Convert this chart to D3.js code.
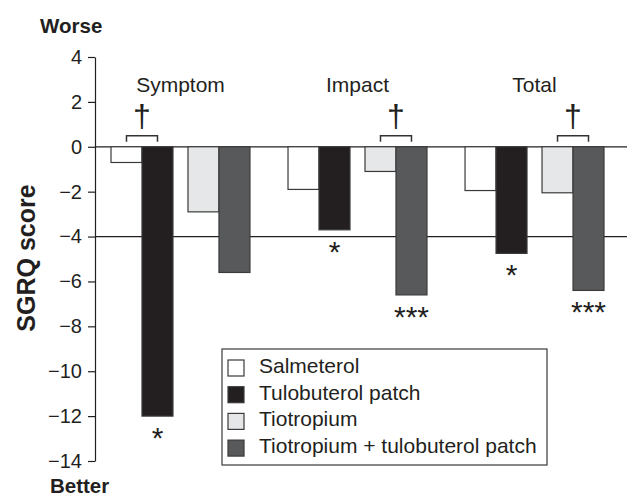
<!DOCTYPE html>
<html>
<head>
<meta charset="utf-8">
<script src="https://cdn.jsdelivr.net/npm/d3@7"></script>
<style>
  body { margin: 0; background: #fff; }
  svg text { font-family: "Liberation Sans", Arial, sans-serif; fill: #231f20; }
</style>
</head>
<body>
<div id="chart"></div>
<script>
var categories = ["Symptom", "Impact", "Total"];
var seriesNames = ["Salmeterol", "Tulobuterol patch", "Tiotropium", "Tiotropium + tulobuterol patch"];
var salmeterol = [-0.7, -1.9, -1.95];
var tulobuterol = [-12.0, -3.7, -4.75];
var tiotropium = [-2.9, -1.1, -2.05];
var combination = [-5.6, -6.6, -6.4];
var stars = [["", "*", "", ""], ["", "*", "", "***"], ["", "*", "", "***"]];
var daggerPairs = [[0, 1], [2, 3], [2, 3]];
var yTicks = [4, 2, 0, -2, -4, -6, -8, -10, -12, -14];
var refLines = [0, -4];
var colors = ["#ffffff", "#231f20", "#e6e7e8", "#58595b"];

window.addEventListener('load', function() {
    var width = 631, height = 497,
        series = [salmeterol, tulobuterol, tiotropium, combination],
        svg = d3.select('#chart').append('svg')
            .attr('width', width).attr('height', height);

    var y = d3.scaleLinear().domain([-14, 4]).range([461, 57]),
        x = d3.scaleBand().domain(categories).range([111, 604]).paddingInner(0.215).paddingOuter(0),
        pair = d3.scaleBand().domain([0, 1]).range([0, x.bandwidth()]).paddingInner(0.195),
        sub = d3.scaleBand().domain([0, 1]).range([0, pair.bandwidth()]);

    var barX = function(ci, si) {
        return x(categories[ci]) + pair(Math.floor(si / 2)) + sub(si % 2);
    };

    // reference lines
    svg.selectAll('.ref').data(refLines).enter().append('line')
        .attr('x1', 95).attr('x2', 627)
        .attr('y1', function(d) { return y(d); })
        .attr('y2', function(d) { return y(d); })
        .attr('stroke', '#231f20').attr('stroke-width', 1.2);

    // axis
    var axis = svg.append('g').attr('transform', 'translate(95,0)')
        .call(d3.axisLeft(y).tickValues(yTicks).tickSize(7).tickSizeOuter(0).tickPadding(6));
    axis.select('.domain').attr('stroke', '#231f20').attr('stroke-width', 1.2);
    axis.selectAll('.tick line').attr('stroke', '#231f20').attr('stroke-width', 1.2);
    axis.selectAll('.tick text').attr('font-size', 20).style('font-family', '"Liberation Sans", Arial, sans-serif');

    // bars
    var rows = [];
    categories.forEach(function(c, ci) {
        series.forEach(function(s, si) { rows.push({ci: ci, si: si, v: s[ci]}); });
    });
    svg.selectAll('.bar').data(rows).enter().append('rect')
        .attr('x', function(d) { return barX(d.ci, d.si); })
        .attr('y', y(0))
        .attr('width', sub.bandwidth())
        .attr('height', function(d) { return y(d.v) - y(0); })
        .attr('fill', function(d) { return colors[d.si]; })
        .attr('stroke', '#3a3a3a').attr('stroke-width', 1.2);

    // significance stars
    svg.selectAll('.star').data(rows.filter(function(d) { return stars[d.ci][d.si]; }))
        .enter().append('text')
        .attr('x', function(d) { return barX(d.ci, d.si) + sub.bandwidth() / 2; })
        .attr('y', function(d) { return y(d.v) + 32; })
        .attr('text-anchor', 'middle').attr('font-size', 30)
        .text(function(d) { return stars[d.ci][d.si]; });

    // category labels
    svg.selectAll('.cat').data(categories).enter().append('text')
        .attr('x', function(d) { return x(d) + x.bandwidth() / 2; })
        .attr('y', 92)
        .attr('text-anchor', 'middle').attr('font-size', 21)
        .text(function(d) { return d; });

    // dagger brackets
    daggerPairs.forEach(function(p, ci) {
        var x1 = barX(ci, p[0]) + sub.bandwidth() / 2,
            x2 = barX(ci, p[1]) + sub.bandwidth() / 2,
            top = y(0) - 11, foot = y(0) - 5;
        svg.append('path')
            .attr('d', 'M' + x1 + ',' + foot + 'V' + top + 'H' + x2 + 'V' + foot)
            .attr('fill', 'none').attr('stroke', '#333').attr('stroke-width', 1.5);
        svg.append('text')
            .attr('x', (x1 + x2) / 2).attr('y', 127)
            .attr('text-anchor', 'middle').attr('font-size', 32)
            .text('\u2020');
    });

    // axis titles
    svg.append('text').attr('x', 40).attr('y', 33)
        .attr('font-size', 20.5).attr('font-weight', 'bold').text('Worse');
    svg.append('text').attr('x', 50).attr('y', 493)
        .attr('font-size', 20.5).attr('font-weight', 'bold').text('Better');
    svg.append('text').attr('transform', 'translate(35,258) rotate(-90)')
        .attr('text-anchor', 'middle').attr('font-size', 25).attr('font-weight', 'bold')
        .text('SGRQ score');

    // legend
    var legend = svg.append('g').attr('transform', 'translate(222,349)');
    legend.append('rect').attr('width', 325).attr('height', 116)
        .attr('fill', '#fff').attr('stroke', '#3a3a3a').attr('stroke-width', 1.2);
    var item = legend.selectAll('.item').data(seriesNames).enter().append('g')
        .attr('transform', function(d, i) { return 'translate(0,' + (24 + i * 26.7) + ')'; });
    item.append('rect').attr('x', 6).attr('y', -13).attr('width', 16).attr('height', 16)
        .attr('fill', function(d, i) { return colors[i]; })
        .attr('stroke', '#3a3a3a').attr('stroke-width', 1.2);
    item.append('text').attr('x', 37).attr('y', 0).attr('font-size', 21)
        .text(function(d) { return d; });
});
</script>
</body>
</html>
